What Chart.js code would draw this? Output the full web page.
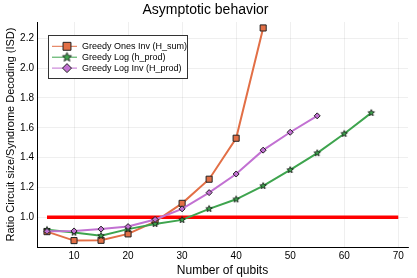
<!DOCTYPE html>
<html>
<head>
<meta charset="utf-8">
<script src="https://cdn.jsdelivr.net/npm/chart.js@4/dist/chart.umd.min.js"></script>
<style>
  html, body { margin: 0; padding: 0; background: #fff; }
  #wrap { width: 417px; height: 278px; }
</style>
</head>
<body>
<div id="wrap"><canvas id="c" width="417" height="278"></canvas></div>
<script>
// --- data ---
var qubits      = [5, 10, 15, 20, 25, 30, 35, 40, 45, 50, 55, 60, 65];
var onesInvSum  = [0.903, 0.843, 0.845, 0.888, 0.97, 1.093, 1.255, 1.53, 2.27];
var logProd     = [0.915, 0.897, 0.875, 0.92, 0.955, 0.982, 1.056, 1.12, 1.21, 1.317, 1.43, 1.56, 1.70];
var logInvProd  = [0.905, 0.908, 0.92, 0.937, 0.985, 1.056, 1.165, 1.29, 1.45, 1.57, 1.68];
var refX        = [5, 70];
var refY        = [1.0, 1.0];
var xTicks      = [10, 20, 30, 40, 50, 60, 70];
var yTicks      = [1.0, 1.2, 1.4, 1.6, 1.8, 2.0, 2.2];

var ORANGE = '#E26F46', GREEN = '#3EA44E', PURPLE = '#C271D2', RED = '#FF0000';
var FONT = '"Liberation Sans", Arial, sans-serif';

function pts(xs, ys) {
  return ys.map(function(v, i) { return { x: xs[i], y: v }; });
}

// filled five point star as a point image
function starCanvas(r) {
  var s = Math.ceil(r * 2 + 3);
  var cv = document.createElement('canvas');
  cv.width = s; cv.height = s;
  var g = cv.getContext('2d');
  g.beginPath();
  for (var i = 0; i < 10; i++) {
    var rad = (i % 2 === 0) ? r : r * 0.45;
    var a = -Math.PI / 2 + i * Math.PI / 5;
    var px = s / 2 + Math.cos(a) * rad, py = s / 2 + Math.sin(a) * rad;
    if (i === 0) g.moveTo(px, py); else g.lineTo(px, py);
  }
  g.closePath();
  g.fillStyle = GREEN; g.fill();
  g.lineWidth = 0.8; g.strokeStyle = '#111'; g.stroke();
  return cv;
}
var starSmall = starCanvas(3.4);
var starBig = starCanvas(4.8);

// legend drawn inside the plot, like the reference
var insideLegend = {
  id: 'insideLegend',
  afterDraw: function(chart) {
    var ctx = chart.ctx;
    var x0 = 48, y0 = 35, w = 139, h = 43;
    ctx.save();
    ctx.fillStyle = '#fff';
    ctx.fillRect(x0, y0, w, h);
    ctx.strokeStyle = '#333';
    ctx.lineWidth = 1;
    ctx.strokeRect(x0 + 0.5, y0 + 0.5, w, h);
    var rows = [
      { label: 'Greedy Ones Inv (H_sum)', color: ORANGE, style: 'rect', r: 5.6 },
      { label: 'Greedy Log (h_prod)', color: GREEN, style: starBig, r: 5 },
      { label: 'Greedy Log Inv (H_prod)', color: PURPLE, style: 'rectRot', r: 4.5 }
    ];
    rows.forEach(function(row, i) {
      var y = 46.3 + i * 10.9;
      ctx.strokeStyle = row.color;
      ctx.lineWidth = 1;
      ctx.beginPath(); ctx.moveTo(52, y); ctx.lineTo(77, y); ctx.stroke();
      ctx.fillStyle = row.color;
      ctx.strokeStyle = '#222';
      ctx.lineWidth = 1;
      Chart.helpers.drawPoint(ctx, { pointStyle: row.style, radius: row.r, borderWidth: 1, rotation: 0 }, 67, y);
      ctx.fillStyle = '#000';
      ctx.font = '9px ' + FONT;
      ctx.textBaseline = 'middle';
      ctx.fillText(row.label, 82, y + 0.5);
    });
    ctx.restore();
  }
};

new Chart(document.getElementById('c'), {
  type: 'line',
  data: {
    datasets: [
      { label: 'ref', data: pts(refX, refY), borderColor: RED, borderWidth: 3.5, pointRadius: 0, order: 4 },
      { label: 'Greedy Ones Inv (H_sum)', data: pts(qubits, onesInvSum), borderColor: ORANGE, backgroundColor: ORANGE,
        borderWidth: 2, pointStyle: 'rect', pointRadius: 4.3, pointBorderColor: '#222', pointBorderWidth: 1, order: 3 },
      { label: 'Greedy Log (h_prod)', data: pts(qubits, logProd), borderColor: GREEN, backgroundColor: GREEN,
        borderWidth: 2, pointStyle: starSmall, pointRadius: 3.5, order: 2 },
      { label: 'Greedy Log Inv (H_prod)', data: pts(qubits, logInvProd), borderColor: PURPLE, backgroundColor: PURPLE,
        borderWidth: 2, pointStyle: 'rectRot', pointRadius: 3, pointBorderColor: '#222', pointBorderWidth: 1, order: 1 }
    ]
  },
  options: {
    responsive: false,
    animation: false,
    devicePixelRatio: 1,
    layout: { padding: { left: 3, right: 9, top: 0, bottom: 0 } },
    elements: { line: { tension: 0 } },
    plugins: {
      legend: { display: false },
      tooltip: { enabled: false },
      title: {
        display: true,
        text: 'Asymptotic behavior',
        color: '#000',
        font: { family: FONT, size: 14, weight: 'normal' },
        padding: { top: 2, bottom: 3.2 }
      }
    },
    scales: {
      x: {
        type: 'linear',
        min: 3.15, max: 71.8,
        afterBuildTicks: function(s) { s.ticks = xTicks.map(function(v) { return { value: v }; }); },
        afterFit: function(s) { s.height = 31; },
        grid: { color: 'rgba(0,0,0,0.09)', lineWidth: 0.7, drawTicks: false },
        border: { color: '#000', width: 1 },
        ticks: { color: '#000', font: { family: FONT, size: 10 }, padding: 3, maxRotation: 0 },
        title: { display: true, text: 'Number of qubits', color: '#000', font: { family: FONT, size: 12 }, padding: { top: 0, bottom: 0 } }
      },
      y: {
        type: 'linear',
        min: 0.80, max: 2.31,
        afterBuildTicks: function(s) { s.ticks = yTicks.map(function(v) { return { value: v }; }); },
        afterFit: function(s) { s.width = 34; },
        grid: { color: 'rgba(0,0,0,0.09)', lineWidth: 0.7, drawTicks: false },
        border: { color: '#000', width: 1 },
        ticks: { color: '#000', font: { family: FONT, size: 10 }, padding: 3,
          callback: function(v) { return v.toFixed(1); } },
        title: { display: true, text: 'Ratio Circuit size/Syndrome Decoding (ISD)', color: '#000',
          font: { family: FONT, size: 11 }, padding: { top: 1, bottom: 0 } }
      }
    }
  },
  plugins: [insideLegend]
});
</script>
</body>
</html>
